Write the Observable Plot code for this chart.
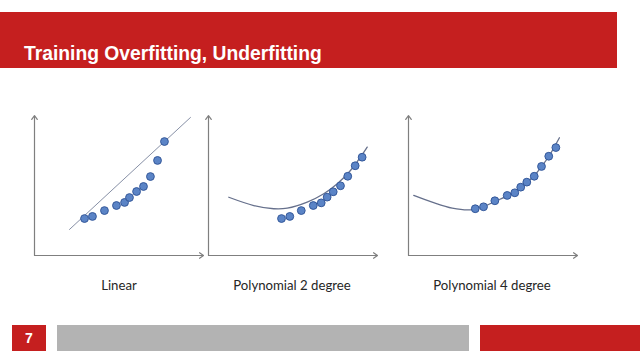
<!DOCTYPE html>
<html>
<head>
<meta charset="utf-8">
<script src="https://cdn.jsdelivr.net/npm/d3@7"></script>
<script src="https://cdn.jsdelivr.net/npm/@observablehq/plot@0.6"></script>
<style>
  html, body { margin: 0; padding: 0; background: #fff; }
  #slide { position: relative; width: 640px; height: 360px; overflow: hidden; background: #fff; }
  .abs { position: absolute; }
  #banner { left: 0; top: 12px; width: 617px; height: 56px; background: #c51f1f; }
  #title { font: bold 19.3px/19px "Liberation Sans", Arial, sans-serif; color: #fff; white-space: nowrap; }
  #pnum { left: 12px; top: 325px; width: 34px; height: 26px; background: #c51f1f; color: #fff;
          font: bold 14px/26px "Liberation Sans", Arial, sans-serif; text-align: center; }
  #gbar { left: 57px; top: 325px; width: 412px; height: 26px; background: #b3b3b3; }
  #rbar { left: 480px; top: 325px; width: 160px; height: 26px; background: #c51f1f; }
  .lbl { top: 277px; width: 200px; text-align: center; font: 13.2px/16px Lato, "Open Sans", sans-serif; color: #262626; white-space: nowrap; }
</style>
</head>
<body>
<div id="slide">
  <div id="banner" class="abs"><div id="title" class="abs" style="left:24px;top:32px">Training Overfitting, Underfitting</div></div>
  <div id="p1" class="abs" style="left:20px;top:100px"></div>
  <div id="p2" class="abs" style="left:194px;top:100px"></div>
  <div id="p3" class="abs" style="left:394px;top:100px"></div>
  <div id="pnum" class="abs">7</div>
  <div id="gbar" class="abs"></div>
  <div id="rbar" class="abs"></div>
</div>
<script>
// Panel titles
const panelTitles = ["Linear", "Polynomial 2 degree", "Polynomial 4 degree"];
const titleCenters = [119, 292, 492];

// Shared domain (arbitrary units)
const domain = [0, 10];

// Panel 1: Linear fit
const p1X = [2.96, 3.43, 4.14, 4.85, 5.33, 5.62, 6.04, 6.45, 6.86, 7.28, 7.69];
const p1Y = [2.64, 2.79, 3.21, 3.57, 3.79, 4.14, 4.57, 4.93, 5.64, 6.79, 8.14];
const p1FitX = [2.07, 9.23];
const p1FitY = [1.86, 9.86];

// Panel 2: Polynomial 2 degree
const p2X = [4.32, 4.81, 5.49, 6.20, 6.67, 7.02, 7.38, 7.81, 8.24, 8.68, 9.09];
const p2Y = [2.64, 2.79, 3.21, 3.57, 3.76, 4.17, 4.55, 4.98, 5.66, 6.41, 7.02];
const p2FitX = [1.20, 2.68, 3.86, 4.66, 5.84, 6.82, 7.62, 8.40, 8.99, 9.39];
const p2FitY = [4.16, 3.57, 3.34, 3.38, 3.81, 4.41, 5.12, 6.07, 7.02, 7.74];

// Panel 3: Polynomial 4 degree
const p3X = [3.95, 4.44, 5.11, 5.84, 6.29, 6.64, 7.00, 7.44, 7.87, 8.30, 8.72];
const p3Y = [3.34, 3.48, 3.91, 4.29, 4.48, 4.88, 5.24, 5.66, 6.36, 7.09, 7.71];
const p3FitX = [0.31, 1.40, 2.59, 3.67, 4.46, 5.15, 5.84, 6.63, 7.41, 7.87, 8.30, 8.93];
const p3FitY = [4.29, 3.81, 3.38, 3.26, 3.50, 3.88, 4.26, 4.88, 5.66, 6.36, 7.07, 8.41];

const zip = (xs, ys) => xs.map((x, i) => ({x, y: ys[i]}));

function panel(pts, fit, linear) {
  const axes = [
    {x1: domain[0], y1: domain[0], x2: domain[0], y2: domain[1]},
    {x1: domain[0], y1: domain[0], x2: domain[1], y2: domain[0]}
  ];
  return Plot.plot({
    width: 190, height: 170,
    marginLeft: 14, marginRight: 7, marginTop: 15, marginBottom: 15,
    x: {domain, axis: null},
    y: {domain, axis: null},
    style: {background: "transparent", overflow: "visible"},
    marks: [
      Plot.arrow(axes, {x1: "x1", y1: "y1", x2: "x2", y2: "y2", stroke: "#7f7f7f", strokeWidth: 1.2, headLength: 6, headAngle: 70}),
      Plot.line(fit, {x: "x", y: "y", stroke: linear ? "#8790a6" : "#66708c", strokeWidth: linear ? 1 : 1.3, curve: linear ? "linear" : "catmull-rom"}),
      Plot.dot(pts, {x: "x", y: "y", r: 3.9, fill: "#5b84c6", stroke: "#34589a", strokeWidth: 1})
    ]
  });
}

document.getElementById("p1").append(panel(zip(p1X, p1Y), zip(p1FitX, p1FitY), true));
document.getElementById("p2").append(panel(zip(p2X, p2Y), zip(p2FitX, p2FitY), false));
document.getElementById("p3").append(panel(zip(p3X, p3Y), zip(p3FitX, p3FitY), false));

const slide = document.getElementById("slide");
panelTitles.forEach((t, i) => {
  const d = document.createElement("div");
  d.className = "abs lbl";
  d.style.left = (titleCenters[i] - 100) + "px";
  d.textContent = t;
  slide.append(d);
});
</script>
</body>
</html>
